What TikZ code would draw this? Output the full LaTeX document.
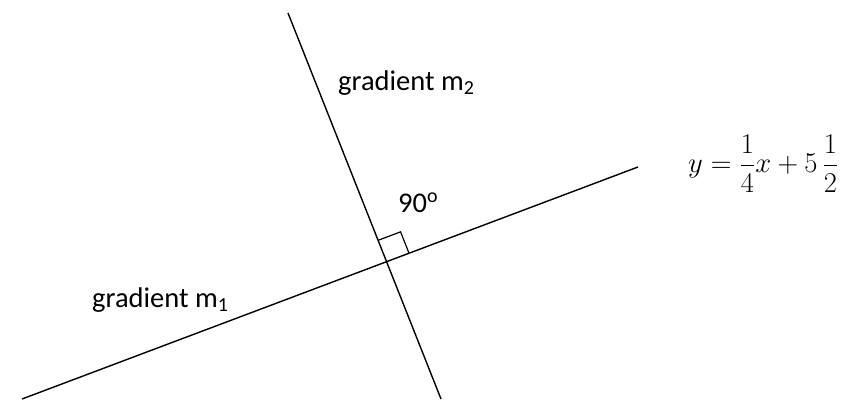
\documentclass[tikz,border=0pt]{standalone}
\usepackage{graphicx}
\usepackage{fontspec}
\setmainfont{Carlito}
\usetikzlibrary{calc,intersections}
\tikzset{
  lineseg/.style={line width=1.4pt, black},
  rightmark/.style={line width=1.2pt, black},
  lbl/.style={font=\fontsize{28.5}{34}\selectfont, inner sep=0pt, anchor=base west},
  eqn/.style={font=\fontsize{24.88}{30}\selectfont, inner sep=0pt, anchor=base west}
}
\begin{document}
\begin{tikzpicture}[x=1pt,y=-1pt]
  \useasboundingbox (0,0) rectangle (844,400);
  \coordinate (A) at (22,399);
  \coordinate (B) at (638,167);
  \coordinate (C) at (288,13);
  \coordinate (D) at (441,399);
  \draw[lineseg, name path=l1] (A) -- (B);
  \draw[lineseg, name path=l2] (C) -- (D);
  \path[name intersections={of=l1 and l2, by=I}];
  \coordinate (S1) at ($(I)!24pt!(B)$);
  \coordinate (S2) at ($(I)!23pt!(C)$);
  \coordinate (S3) at ($(S1)+(S2)-(I)$);
  \draw[rightmark] (S1) -- (S3) -- (S2);
  \node[lbl] (m2) at (338,90) {gradient m\textsubscript{2}};
  \node[lbl] (m1) at (92,307) {gradient m\textsubscript{1}};
  \node[lbl] (ang) at (398,212) {90\textsuperscript{o}};
  \node[eqn] (eq) at (688,172.5) {\scalebox{1.15}{$\displaystyle y=\frac{1}{4}x+5\,\frac{1}{2}$}};
\end{tikzpicture}
\end{document}
